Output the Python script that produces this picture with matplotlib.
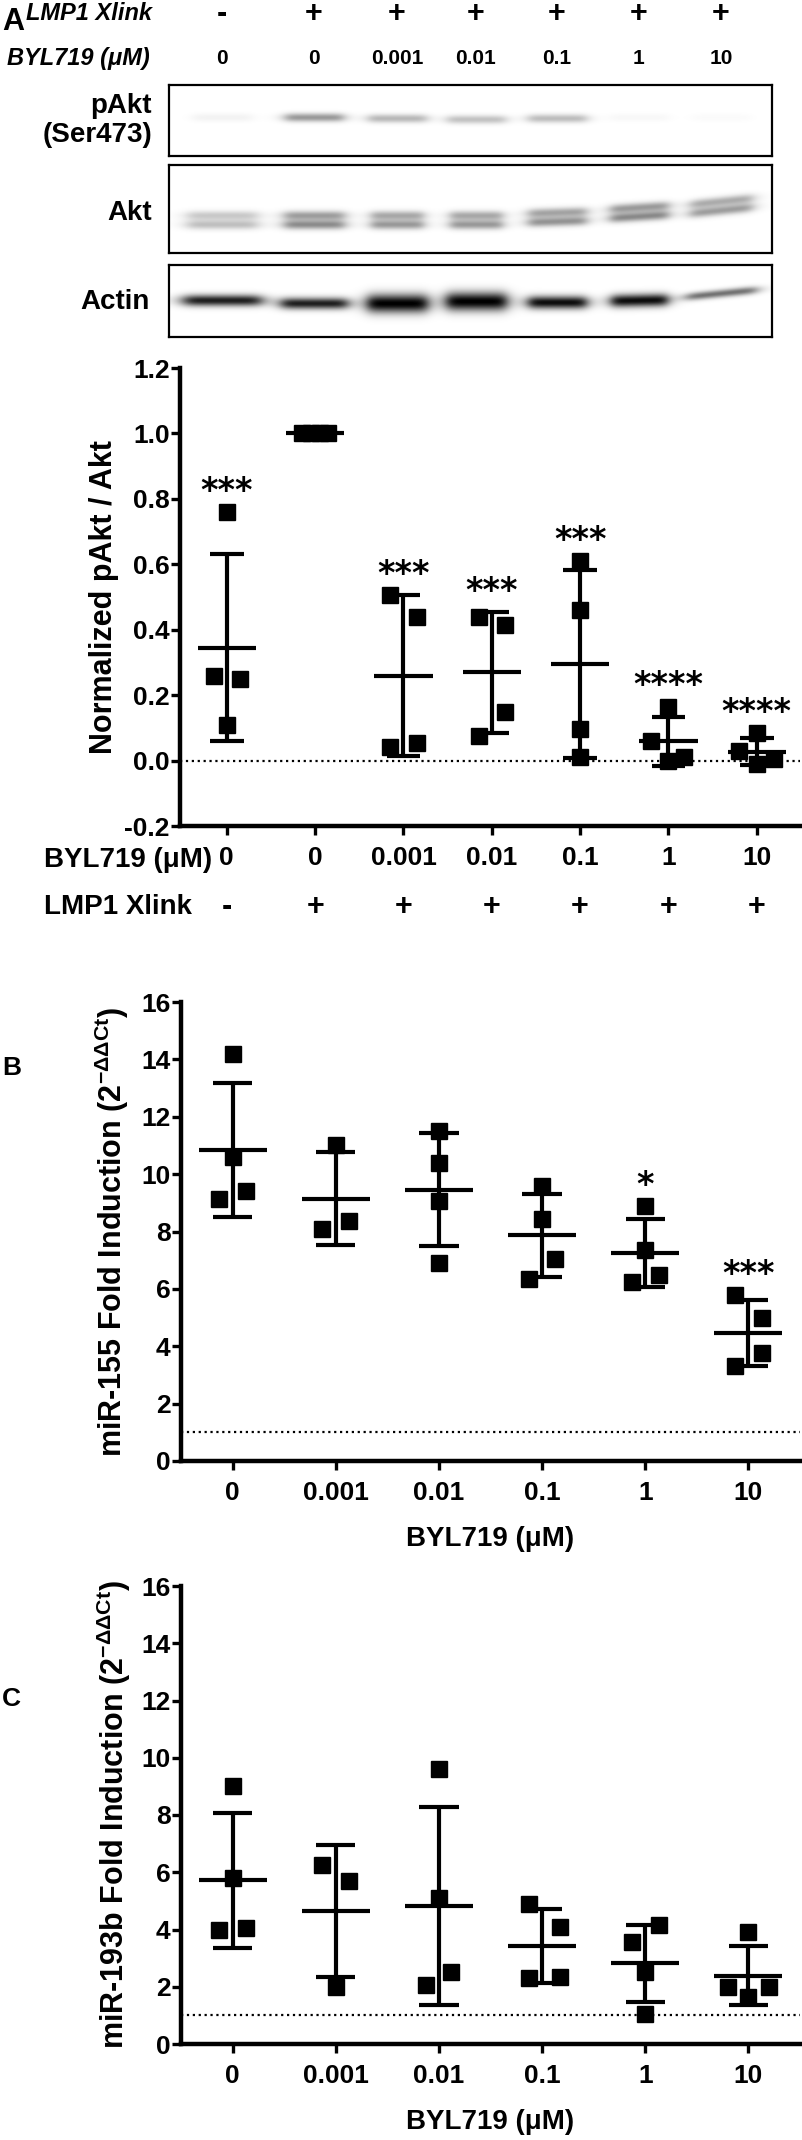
import numpy as np
import matplotlib
matplotlib.use("Agg")
import matplotlib.pyplot as plt

plt.rcParams['font.family'] = ['Liberation Sans', 'DejaVu Sans']
plt.rcParams['font.weight'] = 'bold'
plt.rcParams['axes.labelweight'] = 'bold'
plt.rcParams['axes.unicode_minus'] = False
plt.rcParams['mathtext.fontset'] = 'custom'
plt.rcParams['mathtext.rm'] = 'Liberation Sans'
plt.rcParams['mathtext.it'] = 'Liberation Sans:italic'
plt.rcParams['mathtext.bf'] = 'Liberation Sans:bold'

# ---------------- data ----------------
lane_xlink = ['-', '+', '+', '+', '+', '+', '+']
lane_dose = ['0', '0', '0.001', '0.01', '0.1', '1', '10']

# relative band darkness on the blots
pakt_band = [0.05, 0.40, 0.28, 0.24, 0.26, 0.03, 0.02]
akt_band = [0.25, 0.45, 0.40, 0.40, 0.42, 0.46, 0.38]
actin_band = [0.88, 0.88, 1.0, 1.0, 0.95, 0.95, 0.55]

# A: normalized pAkt / Akt
a_values = [
    [0.76, 0.26, 0.25, 0.11],
    [1.0, 1.0, 1.0, 1.0],
    [0.505, 0.44, 0.04, 0.055],
    [0.44, 0.415, 0.15, 0.075],
    [0.61, 0.46, 0.095, 0.01],
    [0.165, 0.06, 0.0, 0.01],
    [0.085, 0.03, 0.005, -0.01],
]
a_stars = ['***', '', '***', '***', '***', '****', '****']

# B / C: fold induction
bc_doses = ['0', '0.001', '0.01', '0.1', '1', '10']
b_values = [
    [14.2, 10.6, 9.15, 9.4],
    [11.0, 8.1, 8.35],
    [11.5, 10.4, 9.05, 6.9],
    [9.6, 8.45, 7.05, 6.35],
    [8.9, 7.35, 6.5, 6.25],
    [5.8, 5.0, 3.75, 3.3],
]
b_stars = ['', '', '', '', '*', '***']
c_values = [
    [9.0, 5.8, 4.0, 4.05],
    [6.25, 5.7, 2.0],
    [9.6, 5.1, 2.5, 2.05],
    [4.9, 4.1, 2.3, 2.35],
    [4.15, 3.55, 2.5, 1.05],
    [3.9, 2.0, 2.0, 1.65],
]
c_stars = ['', '', '', '', '', '']

# horizontal spread of the symbols (Prism scatter layout)
a_spread = [[0, -0.15, 0.15, 0], [-0.15, -0.05, 0.05, 0.15], [-0.15, 0.15, -0.15, 0.15],
            [-0.15, 0.15, 0.15, -0.15], [0, 0, 0, 0], [0, -0.2, 0, 0.18], [0, -0.2, 0.2, 0]]
b_spread = [[0, 0, -0.13, 0.13], [0, -0.13, 0.13], [0, 0, 0, 0],
            [0, 0, 0.13, -0.13], [0, 0, 0.13, -0.13], [-0.13, 0.13, 0.13, -0.13]]
c_spread = [[0, 0, -0.13, 0.13], [-0.13, 0.13, 0], [0, 0, 0.12, -0.13],
            [-0.13, 0.17, -0.13, 0.17], [0.13, -0.13, 0, 0], [0, -0.2, 0.2, 0]]

W, H = 803, 2140
fig = plt.figure(figsize=(W / 100, H / 100), dpi=100)


def fx(x):
    return x / W


def fy(y):
    return 1 - y / H


# ---------------- blots ----------------
lane_px = [222, 314, 397, 476, 557, 639, 721]
box_left, box_right = 169, 772


def blot(top, bottom, dark, yc, shift, sigma, halfw, doublet=0.0, tilt=None):
    ax = fig.add_axes([fx(box_left), fy(bottom), fx(box_right - box_left), (bottom - top) / H])
    hh, ww = bottom - top, box_right - box_left
    yy, xx = np.mgrid[0:hh, 0:ww]
    img = np.zeros((hh, ww))
    for i, d in enumerate(dark):
        cx = lane_px[i] - box_left
        t = 0.0 if tilt is None else tilt[i]
        cy = yc - top + shift[i] - t * (xx - cx)
        hprof = 1.0 / (1.0 + ((xx - cx) / halfw[i]) ** 8)
        if doublet:
            vprof = (np.exp(-0.5 * ((yy - cy + doublet / 2) / sigma[i]) ** 2) * 0.85
                     + np.exp(-0.5 * ((yy - cy - doublet / 2) / sigma[i]) ** 2))
        else:
            vprof = np.exp(-0.5 * ((yy - cy) / sigma[i]) ** 2)
        img += d * hprof * vprof
    ax.imshow(np.clip(img, 0, 1), cmap='gray_r', vmin=0, vmax=1, aspect='auto',
              interpolation='bilinear')
    ax.set_xticks([])
    ax.set_yticks([])
    for s in ax.spines.values():
        s.set_linewidth(1.6)
    return ax


blot(85, 156, pakt_band, 117, [0, 0, 1, 2, 1, 0, 0], [3.0] * 7, [30] * 7)
blot(165, 253, akt_band, 220, [0, 0, 0, 0, -3, -8, -14], [3.2] * 7,
     [36, 31, 27, 27, 30, 30, 32], doublet=9, tilt=[0, 0, 0, 0, 0.03, 0.06, 0.1])
blot(265, 337, actin_band, 302, [-2, 1, 1, -1, 0, -2, -9], [4, 4, 6.5, 6.5, 4.5, 4.5, 2.8],
     [40, 34, 31, 31, 30, 29, 36], tilt=[0, 0, 0, 0, 0, 0.02, 0.1])

fig.text(fx(2), fy(22), 'A', fontsize=22, ha='left', va='center')
fig.text(fx(152), fy(14), 'LMP1 Xlink', fontsize=17, style='italic', ha='right', va='center')
fig.text(fx(150), fy(58), 'BYL719 (\u03bcM)', fontsize=17, style='italic', ha='right', va='center')
for xp, sgn, dose in zip(lane_px, lane_xlink, lane_dose):
    fig.text(fx(xp), fy(14), sgn, fontsize=22, ha='center', va='center')
    fig.text(fx(xp), fy(58), dose, fontsize=15, ha='center', va='center')
fig.text(fx(152), fy(106), 'pAkt', fontsize=20, ha='right', va='center')
fig.text(fx(152), fy(135), '(Ser473)', fontsize=20, ha='right', va='center')
fig.text(fx(152), fy(213), 'Akt', fontsize=20, ha='right', va='center')
fig.text(fx(150), fy(302), 'Actin', fontsize=20, ha='right', va='center')


# ---------------- scatter panels ----------------
def scatter_panel(rect, values, spread, stars, ylim, yticks, yfmt, ref, labels):
    ax = fig.add_axes(rect)
    n = len(values)
    for i, (vals, offs) in enumerate(zip(values, spread)):
        v = np.array(vals, dtype=float)
        m = v.mean()
        s = v.std(ddof=1)
        ax.plot(i + np.array(offs), v, 's', color='k', ms=12, zorder=3, clip_on=False)
        ax.hlines(m, i - 0.33, i + 0.33, color='k', lw=3, zorder=4)
        if s > 0:
            ax.vlines(i, m - s, m + s, color='k', lw=3, zorder=4)
            ax.hlines([m - s, m + s], i - 0.19, i + 0.19, color='k', lw=3, zorder=4)
        if stars[i]:
            top = max(v.max(), m + s)
            ax.annotate(stars[i], (i, top), xytext=(0, 8), textcoords='offset points',
                        ha='center', va='baseline', fontsize=24,
                        family='DejaVu Sans', weight='bold')
    ax.axhline(ref, color='k', lw=1.6, ls=':', zorder=1)
    ax.set_xlim(-0.5, n - 0.5)
    ax.set_ylim(*ylim)
    ax.set_yticks(yticks)
    ax.set_yticklabels([yfmt % t for t in yticks])
    ax.set_xticks(range(n))
    ax.set_xticklabels(labels)
    for side in ('top', 'right'):
        ax.spines[side].set_visible(False)
    for side in ('left', 'bottom'):
        ax.spines[side].set_linewidth(3.2)
    ax.tick_params(axis='both', length=6.5, width=2.4, labelsize=19, direction='out')
    ax.tick_params(axis='y', pad=1)
    ax.tick_params(axis='x', pad=8)
    return ax


sup = r'$^{\mathrm{-\Delta\Delta Ct}}$'

# A
axA = scatter_panel([fx(180), fy(826), fx(620), 458 / H], a_values, a_spread, a_stars,
                    (-0.2, 1.2), [-0.2, 0.0, 0.2, 0.4, 0.6, 0.8, 1.0, 1.2], '%.1f', 0.0,
                    lane_dose)
axA.set_xlim(-0.53, 6.49)
axA.set_ylabel('Normalized pAkt / Akt', fontsize=22, fontweight='bold')
axA.yaxis.set_label_coords(-0.099, 0.5)
for i, sgn in enumerate(lane_xlink):
    axA.text(i, -(907 - 826) / 458, sgn, transform=axA.get_xaxis_transform(), fontsize=22,
             ha='center', va='center')
fig.text(fx(212), fy(860), 'BYL719 (\u03bcM)', fontsize=20, ha='right', va='center')
fig.text(fx(192), fy(907), 'LMP1 Xlink', fontsize=20, ha='right', va='center')

# B
axB = scatter_panel([fx(181), fy(1461), fx(619), 459 / H], b_values, b_spread, b_stars,
                    (0, 16), list(range(0, 17, 2)), '%d', 1.0, bc_doses)
axB.set_ylabel('miR-155 Fold Induction (2' + sup + ')', fontsize=22, fontweight='bold')
axB.yaxis.set_label_coords(-0.08, 0.5)
fig.text(fx(490), fy(1539), 'BYL719 (\u03bcM)', fontsize=20, ha='center', va='center')
fig.text(fx(2), fy(1068), 'B', fontsize=19, ha='left', va='center')

# C
axC = scatter_panel([fx(181), fy(2044), fx(619), 458 / H], c_values, c_spread, c_stars,
                    (0, 16), list(range(0, 17, 2)), '%d', 1.0, bc_doses)
axC.set_ylabel('miR-193b Fold Induction (2' + sup + ')', fontsize=22, fontweight='bold')
axC.yaxis.set_label_coords(-0.077, 0.5)
fig.text(fx(490), fy(2122), 'BYL719 (\u03bcM)', fontsize=20, ha='center', va='center')
fig.text(fx(2), fy(1699), 'C', fontsize=19, ha='left', va='center')

fig.savefig('out.png', dpi=100)
